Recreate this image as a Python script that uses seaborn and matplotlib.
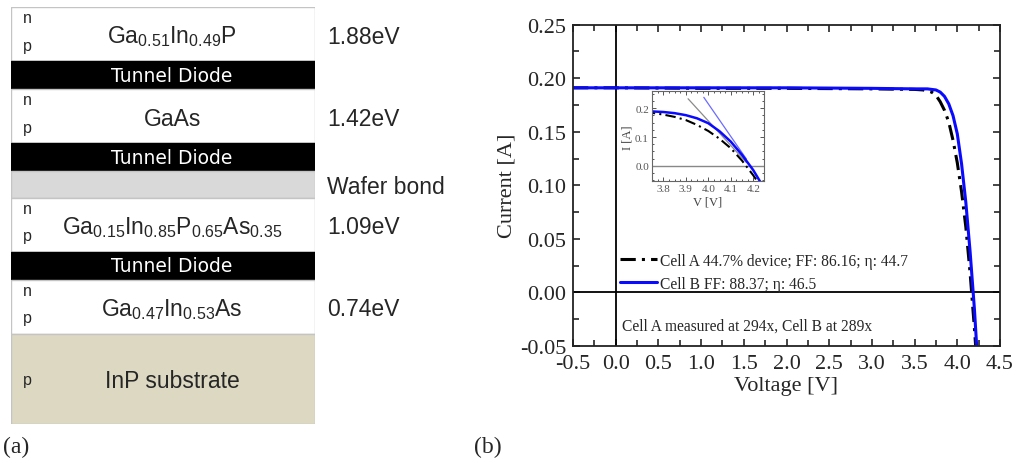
import matplotlib
matplotlib.use("Agg")
import matplotlib.pyplot as plt
from matplotlib.ticker import MultipleLocator
import seaborn as sns
import pandas as pd

# left panel: layer stack (top to bottom), thickness in drawing units
layer_names = [r"$\mathregular{Ga_{0.51}In_{0.49}P}$", "Tunnel Diode", "GaAs", "Tunnel Diode", "",
               r"$\mathregular{Ga_{0.15}In_{0.85}P_{0.65}As_{0.35}}$", "Tunnel Diode",
               r"$\mathregular{Ga_{0.47}In_{0.53}As}$", "InP substrate"]
layer_kind = ["cell", "tunnel", "cell", "tunnel", "bond", "cell", "tunnel", "cell", "substrate"]
layer_thick = [54, 28, 54, 28, 27, 54, 28, 54, 90]
side_labels = ["1.88eV", "", "1.42eV", "", "Wafer bond", "1.09eV", "", "0.74eV", ""]

# right panel: I-V curves
volt = [-0.5, 0.0, 1.0, 2.0, 3.0, 3.5, 3.6, 3.65, 3.7, 3.75, 3.8, 3.85, 3.9, 3.95,
        4.0, 4.05, 4.1, 4.15, 4.2, 4.25]
cur_a = [0.191, 0.191, 0.1905, 0.1905, 0.190, 0.1895, 0.189, 0.188, 0.187, 0.184, 0.178,
         0.170, 0.159, 0.142, 0.121, 0.094, 0.061, 0.018, -0.033, -0.09]
cur_b = [0.191, 0.191, 0.191, 0.191, 0.1905, 0.190, 0.190, 0.190, 0.1895, 0.189, 0.187,
         0.183, 0.176, 0.165, 0.148, 0.120, 0.084, 0.038, -0.015, -0.08]
tan_a_v = [3.91, 4.17]
tan_a_i = [0.233, 0.011]
tan_b_v = [3.98, 4.17]
tan_b_i = [0.238, 0.023]

label_a = "Cell A 44.7% device; FF: 86.16; \u03b7: 44.7"
label_b = "Cell B FF: 88.37; \u03b7: 46.5"
note = "Cell A measured at 294x, Cell B at 289x"

sns.set_style("ticks")
plt.rcParams["font.family"] = ["Liberation Serif", "DejaVu Serif"]
plt.rcParams["axes.unicode_minus"] = False
plt.rcParams["mathtext.fontset"] = "custom"
plt.rcParams["mathtext.rm"] = "Liberation Sans"

fig = plt.figure(figsize=(10.19, 4.64), dpi=100)

# ---- (a) layer stack ----
axl = fig.add_axes([11 / 1019, 39 / 464, 304 / 1019, 417 / 464])
tops = [sum(layer_thick[:k]) for k in range(len(layer_thick))]
fill = {"cell": "white", "tunnel": "black", "bond": "#d9d9d9", "substrate": "#dcd8c2"}
edge = {"cell": "#c4c4c4", "tunnel": "black", "bond": "#c4c4c4", "substrate": "#c4c4c4"}
axl.bar([0.5] * len(layer_thick), layer_thick, bottom=tops, width=1,
        color=[fill[k] for k in layer_kind], edgecolor=[edge[k] for k in layer_kind], linewidth=1)
axl.set_xlim(0, 1)
axl.set_ylim(sum(layer_thick), 0)
axl.axis("off")
sans = ["Liberation Sans", "DejaVu Sans"]
for name, kind, top, h, side in zip(layer_names, layer_kind, tops, layer_thick, side_labels):
    mid = top + h / 2
    if kind == "tunnel":
        axl.text(0.53, mid, name, color="white", ha="center", va="center",
                 fontsize=13.5, family="DejaVu Sans")
    elif name:
        axl.text(0.53, mid + 2, name, ha="center", va="center", fontsize=16.5, family=sans)
    if kind == "cell":
        axl.text(0.04, top + 10, "n", ha="left", va="center", fontsize=11.5, family=sans)
        axl.text(0.04, top + 38, "p", ha="left", va="center", fontsize=11.5, family=sans)
    if kind == "substrate":
        axl.text(0.04, mid, "p", ha="left", va="center", fontsize=11.5, family=sans)
    if side:
        axl.text(1.04, mid + 2, side, ha="left", va="center", fontsize=16.5, family=sans,
                 clip_on=False)

fig.text(3 / 1019, 1 - 447 / 464, "(a)", fontsize=17, va="center")
fig.text(474 / 1019, 1 - 447 / 464, "(b)", fontsize=17, va="center")

# ---- (b) I-V curves ----
df = pd.DataFrame({"V": volt, "A": cur_a, "B": cur_b})
dashdot = (0, (5, 2, 1, 2))
ax = fig.add_axes([573 / 1019, 117 / 464, 427 / 1019, 321.4 / 464])
ax.axhline(0, color="black", lw=1.3)
ax.axvline(0, color="black", lw=1.3)
sns.lineplot(data=df, x="V", y="A", ax=ax, color="black", lw=2.2, linestyle=dashdot,
             label=label_a, sort=False)
sns.lineplot(data=df, x="V", y="B", ax=ax, color="#0a0aff", lw=2.2, label=label_b, sort=False)
ax.set_xlim(-0.5, 4.5)
ax.set_ylim(-0.05, 0.25)
ax.xaxis.set_major_locator(MultipleLocator(0.5))
ax.xaxis.set_minor_locator(MultipleLocator(0.25))
ax.yaxis.set_major_locator(MultipleLocator(0.05))
ax.yaxis.set_minor_locator(MultipleLocator(0.025))
ax.xaxis.set_major_formatter(lambda v, p: f"{v:.1f}")
ax.yaxis.set_major_formatter(lambda v, p: f"{v:.2f}")
ax.tick_params(which="both", direction="in", top=True, right=True, labelsize=16, width=1.2)
ax.tick_params(which="major", length=5)
ax.tick_params(which="minor", length=4)
ax.tick_params(axis="x", pad=6)
ax.tick_params(axis="y", pad=5)
for s in ax.spines.values():
    s.set_linewidth(1.3)
    s.set_color("#222222")
ax.set_xlabel("Voltage [V]", fontsize=16, labelpad=2)
ax.set_ylabel("Current [A]", fontsize=16, labelpad=2)
ax.legend(loc="upper left", bbox_to_anchor=(0.11, 0.29), frameon=False, fontsize=11.2,
          borderpad=0, borderaxespad=0, handlelength=2.4, handletextpad=0.2, labelspacing=0.45)
ax.text(0.07, -0.031, note, fontsize=11.2, va="center")

# inset
axi = fig.add_axes([651.7 / 1019, 281.7 / 464, 112.3 / 1019, 90 / 464])
axi.axhline(0, color="#888888", lw=1)
sns.lineplot(x=tan_a_v, y=tan_a_i, ax=axi, color="#8a8a8a", lw=0.9)
sns.lineplot(x=tan_b_v, y=tan_b_i, ax=axi, color="#6b6bff", lw=0.9)
sns.lineplot(data=df, x="V", y="A", ax=axi, color="black", lw=1.5, linestyle=dashdot, sort=False)
sns.lineplot(data=df, x="V", y="B", ax=axi, color="#0a0aff", lw=1.8, sort=False)
axi.set_xlim(3.748, 4.248)
axi.set_ylim(-0.054, 0.259)
axi.xaxis.set_major_locator(MultipleLocator(0.1))
axi.xaxis.set_minor_locator(MultipleLocator(0.025))
axi.yaxis.set_major_locator(MultipleLocator(0.1))
axi.yaxis.set_minor_locator(MultipleLocator(0.025))
axi.xaxis.set_major_formatter(lambda v, p: f"{v:.1f}")
axi.yaxis.set_major_formatter(lambda v, p: f"{v:.1f}")
axi.tick_params(which="both", direction="in", top=True, right=True, labelsize=8,
                colors="#555555", width=0.7, pad=2)
axi.tick_params(which="major", length=3)
axi.tick_params(which="minor", length=1.5)
for s in axi.spines.values():
    s.set_linewidth(0.8)
    s.set_color("#666666")
axi.set_xlabel("V [V]", fontsize=9, color="#444444", labelpad=2)
axi.set_ylabel("I [A]", fontsize=9, color="#444444", labelpad=1)

fig.savefig("out.png", dpi=100)
